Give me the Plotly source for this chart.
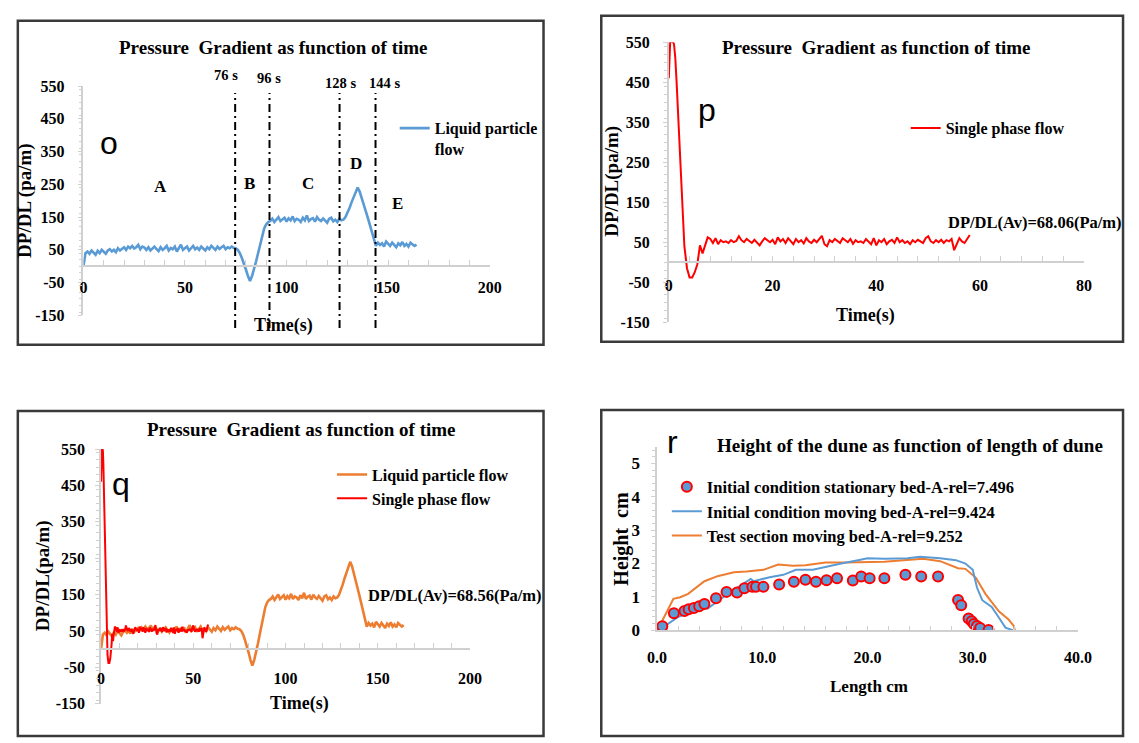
import plotly.graph_objects as go

W, H = 1139, 743
SERIF = "Liberation Serif"
SANS = "Liberation Sans"
BLUE = "#5B9BD5"
ORANGE = "#ED7D31"
RED = "#FF0000"
GRAY = "#D0D0D0"

# ---------------- data: liquid particle flow (panels o and q), 1 s sampling ----------------
lp_values = [
    0, 40, 45, 38, 48, 42, 35, 47, 40, 50, 44,
    38, 48, 52, 45, 50, 43, 55, 48, 52, 58,
    50, 60, 55, 62, 54, 58, 65, 52, 60, 57,
    50, 58, 48, 55, 60, 52, 46, 58, 50, 55,
    62, 48, 56, 52, 60, 45, 58, 66, 50, 55,
    60, 48, 56, 62, 52, 57, 50, 60, 54, 48,
    58, 52, 62, 55, 50, 60, 53, 58, 62, 52,
    58, 55, 60, 56, 55,
    50, 40, 25, 10, -10, -30, -45, -30, -10, 15, 40, 65, 90, 115, 128, 135,
    138, 145, 135, 142, 150, 138, 144, 148, 136, 146, 140, 152, 138, 145, 142, 135, 148, 140,
    155, 138, 144, 147, 136, 150, 142, 138, 146, 140, 133, 145, 148, 137, 142, 135, 145, 140,
    142, 150, 162, 178, 195, 212, 228, 240,
    228, 210, 190, 168, 148, 128, 108, 85, 62,
    72, 65, 70, 60, 75, 68, 62, 72, 66, 58, 70, 64, 74, 62, 68, 60, 72, 66, 62, 66,
]
lp_time = [float(i) for i in range(len(lp_values))]

# ---------------- data: single phase flow (panels p and q) ----------------
sp_time_start = [0, 0.25, 0.5, 0.75, 1.0, 1.25, 1.5, 2.0, 2.5, 3.0, 3.5, 4.0, 4.5, 5.0,
                 5.5, 5.75, 6.0, 6.5, 7.0, 7.5, 8.0, 8.5, 9.0]
sp_values_start = [460, 548, 552, 552, 545, 510, 450, 310, 160, 40, -15, -38, -38, -25,
                   -5, 15, 42, 22, 45, 62, 58, 48, 60]
sp_values_rest = [
    45, 55, 50, 52, 48, 55, 50, 53, 65, 55,
    50, 58, 52, 48, 56, 50, 42, 52, 60, 55,
    50, 56, 45, 62, 52, 58, 48, 60, 52, 45,
    58, 50, 55, 47, 60, 52, 48, 56, 50, 58,
    66, 45, 40, 55, 50, 58, 52, 48, 60, 55,
    50, 58, 46, 55, 50, 52, 48, 58, 52, 45,
    60, 42, 55, 50, 58, 45, 52, 56, 48, 62,
    50, 55, 48, 52, 45, 55, 50, 56, 52, 48,
    60, 65, 52, 48, 55, 50, 56, 48, 55, 52,
    58, 30, 45, 60, 52, 48, 58, 68,
]
sp_time = sp_time_start + [9.5 + 0.5 * i for i in range(len(sp_values_rest))]
sp_values = sp_values_start + sp_values_rest

# pressure-gradient axis ticks
dp_ticks = [-150, -50, 50, 150, 250, 350, 450, 550]

# phase boundaries (panel o)
boundary_times = [74.7, 91.6, 126.1, 143.8]
boundary_labels = ["76 s", "96 s", "128 s", "144 s"]
boundary_label_x = [70.4, 91.6, 126.5, 148.4]
boundary_label_y = [583, 574, 559, 559]
region_labels = ["A", "B", "C", "D", "E"]
region_x = [37.9, 81.7, 110.8, 134.3, 154.6]
region_y = [243, 252, 252, 315, 192]

# ---------------- data: dune profiles (panel r) ----------------
st_len = [0.1, 0.5, 1.6, 2.6, 3.0, 3.5, 4.0, 4.5, 5.6, 6.6, 7.6, 8.3, 9.05, 9.4, 10.1, 11.6,
          13.0, 14.1, 15.1, 16.1, 17.1, 18.6, 19.4, 20.2, 21.6, 23.6, 25.1, 26.7, 28.6, 28.9,
          29.6, 29.9, 30.1, 30.4, 30.7, 31.5]
st_h = [0.0, 0.12, 0.51, 0.58, 0.63, 0.67, 0.72, 0.79, 0.96, 1.15, 1.13, 1.26, 1.30, 1.30,
        1.30, 1.37, 1.45, 1.51, 1.45, 1.50, 1.56, 1.49, 1.61, 1.56, 1.56, 1.66, 1.61, 1.61,
        0.91, 0.75, 0.35, 0.27, 0.19, 0.125, 0.07, 0.01]
mv_len = [0.15, 2.0, 4.5, 4.8, 6.7, 8.9, 9.2, 10.7, 12.0, 13.2, 14.8, 16.0, 17.5, 19.1, 20.0,
          21.6, 23.8, 25.0, 26.9, 28.4, 29.3, 30.0, 30.4, 30.9, 31.8, 32.6, 33.1, 33.8]
mv_h = [0.0, 0.40, 0.68, 0.65, 1.09, 1.54, 1.47, 1.59, 1.66, 1.81, 1.81, 1.90, 2.0, 2.1, 2.16,
        2.14, 2.16, 2.2, 2.16, 2.1, 2.0, 1.81, 1.28, 0.9, 0.7, 0.32, 0.08, 0.0]
ts_len = [0.0, 0.47, 1.55, 2.2, 2.95, 4.5, 5.75, 7.3, 8.5, 10.1, 11.5, 12.9, 14.1, 16.0, 17.9,
          19.7, 21.6, 23.4, 25.3, 26.9, 27.8, 28.6, 29.3, 30.3, 31.2, 32.5, 33.4, 33.9, 34.0]
ts_h = [0.0, 0.27, 0.94, 0.99, 1.09, 1.47, 1.62, 1.74, 1.76, 1.81, 1.97, 1.93, 1.95, 2.03, 2.03,
        2.05, 2.05, 2.1, 2.14, 2.07, 1.97, 1.86, 1.84, 1.57, 1.09, 0.56, 0.32, 0.13, 0.0]

avg_p_text = "DP/DL(Av)=68.06(Pa/m)"
avg_q_text = "DP/DL(Av)=68.56(Pa/m)"


def px(x):
    return x / W


def py(y):
    return 1 - y / H


def font(size, family=SERIF, bold=True):
    return dict(family=family, size=size, color="black", weight="bold" if bold else "normal")


# panel geometry (pixels)
dom = {
    "o": dict(x=[px(75), px(490)], y=[py(315), py(80)], xr=[0, 200], yr=[-150, 550], xd=50, yd=100),
    "p": dict(x=[px(673), px(1097)], y=[py(322), py(35)], xr=[0, 80], yr=[-150, 550], xd=20, yd=100),
    "q": dict(x=[px(93), px(470)], y=[py(713), py(452)], xr=[0, 200], yr=[-150, 550], xd=50, yd=100),
    "r": dict(x=[px(661), px(1091)], y=[py(637.7), py(449.6)], xr=[0, 40], yr=[0, 5.5], xd=10, yd=1),
}


def y_to_paper(d, v):
    y0, y1 = d["y"]
    r0, r1 = d["yr"]
    return y0 + (v - r0) / (r1 - r0) * (y1 - y0)


fig = go.Figure()
fig.add_trace(go.Scatter(x=lp_time, y=lp_values, mode="lines", line=dict(color=BLUE, width=2.6),
                         name="Liquid particle<br>flow", xaxis="x", yaxis="y", legend="legend"))
fig.add_trace(go.Scatter(x=sp_time, y=sp_values, mode="lines", line=dict(color=RED, width=2),
                         name="Single phase flow", xaxis="x2", yaxis="y2", legend="legend2"))
fig.add_trace(go.Scatter(x=lp_time, y=lp_values, mode="lines", line=dict(color=ORANGE, width=2.6),
                         name="Liquid particle flow", xaxis="x3", yaxis="y3", legend="legend3"))
fig.add_trace(go.Scatter(x=sp_time, y=sp_values, mode="lines", line=dict(color=RED, width=2),
                         name="Single phase flow", xaxis="x3", yaxis="y3", legend="legend3"))
fig.add_trace(go.Scatter(x=ts_len, y=ts_h, mode="lines", line=dict(color=ORANGE, width=2),
                         name="Test section moving bed-A-rel=9.252", xaxis="x4", yaxis="y4",
                         legend="legend4", legendrank=3))
fig.add_trace(go.Scatter(x=mv_len, y=mv_h, mode="lines", line=dict(color=BLUE, width=2),
                         name="Initial condition moving bed-A-rel=9.424", xaxis="x4", yaxis="y4",
                         legend="legend4", legendrank=2))
fig.add_trace(go.Scatter(x=st_len, y=st_h, mode="markers",
                         marker=dict(color=BLUE, size=10, line=dict(color=RED, width=2)),
                         name="Initial condition stationary bed-A-rel=7.496", xaxis="x4", yaxis="y4",
                         legend="legend4", legendrank=1))


def xaxis(d, anchor, free, standoff, fmt=None):
    a = dict(domain=d["x"], range=d["xr"], dtick=d["xd"], tick0=0, showline=True, linecolor=GRAY,
             linewidth=1.5, ticks="inside", ticklen=5, tickcolor=GRAY,
             minor=dict(ticks="inside", ticklen=5, dtick=d["xd"] / 5, tickcolor=GRAY),
             showgrid=False, zeroline=False, tickfont=font(16), fixedrange=True,
             ticklabelstandoff=standoff)
    if free:
        a.update(anchor="free", position=y_to_paper(d, 0))
    else:
        a.update(anchor=anchor)
    if fmt:
        a["tickformat"] = fmt
    return a


def yaxis(d, anchor, standoff, size=16, ticks=None):
    a = dict(domain=d["y"], range=d["yr"], dtick=d["yd"], tick0=d["yr"][0], anchor=anchor,
             showline=True, linecolor=GRAY, linewidth=1.5, ticks="outside", ticklen=4,
             tickcolor=GRAY, minor=dict(ticks="outside", ticklen=3, dtick=d["yd"] / 5, tickcolor=GRAY),
             showgrid=False, zeroline=False, tickfont=font(size), fixedrange=True,
             ticklabelstandoff=standoff)
    if ticks is not None:
        a.update(tickmode="array", tickvals=ticks, ticktext=[str(t) for t in ticks])
    return a


ann = []


def text(x, y, s, size, bold=True, family=SERIF, angle=0, xref="paper", yref="paper"):
    ann.append(dict(x=x, y=y, xref=xref, yref=yref, text=s, showarrow=False, textangle=angle,
                    font=font(size, family, bold), xanchor="center", yanchor="middle"))


# titles
title = "Pressure  Gradient as function of time"
text(px(269), py(40), title, 19)
text(px(885), py(40), title, 19)
text(px(297.5), py(432), title, 19)
text(px(919.5), py(448), "Height of the dune as function of length of dune", 19)
# panel letters
text(px(100.7), py(138), "o", 32, bold=False, family=SANS)
text(px(712), py(105), "p", 32, bold=False, family=SANS)
text(px(113.6), py(488), "q", 32, bold=False, family=SANS)
text(px(677), py(445), "r", 32, bold=False, family=SANS)
# axis titles
text(px(279), py(325), "Time(s)", 18)
text(px(874), py(315), "Time(s)", 18)
text(px(296), py(713), "Time(s)", 18)
text(px(877), py(695), "Length cm", 17)
text(px(16), py(197), "DP/DL (pa/m)", 19, angle=-90)
text(px(615), py(178), "DP/DL(pa/m)", 19, angle=-90)
text(px(34), py(582), "DP/DL(pa/m)", 19, angle=-90)
text(px(625), py(544), "Height  cm", 20, angle=-90)
# average annotations
text(70.6, 98.8, avg_p_text, 16.5, xref="x2", yref="y2")
text(191.9, 147, avg_q_text, 16.5, xref="x3", yref="y3")
# phase boundary labels (above the plot range, so placed in paper units)
for bx, by, bl in zip(boundary_label_x, boundary_label_y, boundary_labels):
    text(bx, y_to_paper(dom["o"], by), bl, 14.5, xref="x", yref="paper")
for rx, ry, rl in zip(region_x, region_y, region_labels):
    text(rx, ry, rl, 17, xref="x", yref="y")

shapes = []
for bt in boundary_times:
    shapes.append(dict(type="line", xref="x", yref="paper", x0=bt, x1=bt, y0=py(328), y1=py(87),
                       line=dict(color="black", width=2, dash="8px,4px,2px,4px")))
# panel frames
for (x0, y0, x1, y1) in [(8, 13, 545, 345), (604, 8, 1137, 342), (8, 413, 545, 746), (604, 412, 1137, 746)]:
    shapes.append(dict(type="rect", xref="paper", yref="paper", x0=px(x0), x1=px(x1), y0=py(y1), y1=py(y0),
                       line=dict(color="#3a3a3a", width=2.5), fillcolor="rgba(0,0,0,0)"))

leg_common = dict(bgcolor="rgba(0,0,0,0)", font=font(16), itemwidth=30, xanchor="left",
                  yanchor="middle", borderwidth=0)

fig.update_layout(
    width=W, height=H, margin=dict(l=0, r=0, t=0, b=0),
    paper_bgcolor="white", plot_bgcolor="rgba(0,0,0,0)",
    showlegend=True,
    xaxis=xaxis(dom["o"], "y", True, 7),
    yaxis=yaxis(dom["o"], "x", 10, ticks=dp_ticks),
    xaxis2=xaxis(dom["p"], "y2", True, 9),
    yaxis2=yaxis(dom["p"], "x2", 10, ticks=dp_ticks),
    xaxis3=xaxis(dom["q"], "y3", True, 15),
    yaxis3=yaxis(dom["q"], "x3", 7, ticks=dp_ticks),
    xaxis4=xaxis(dom["r"], "y4", False, 12, fmt=".1f"),
    yaxis4=yaxis(dom["r"], "x4", 8, size=17),
    legend=dict(x=px(393), y=py(134), valign="top", **leg_common),
    legend2=dict(x=px(915), y=py(123), **leg_common),
    legend3=dict(x=px(329), y=py(490.5), **leg_common),
    legend4=dict(x=px(671), y=py(516), **dict(leg_common, font=font(16.5))),
    annotations=ann,
    shapes=shapes,
)

fig.write_html("out.html")
